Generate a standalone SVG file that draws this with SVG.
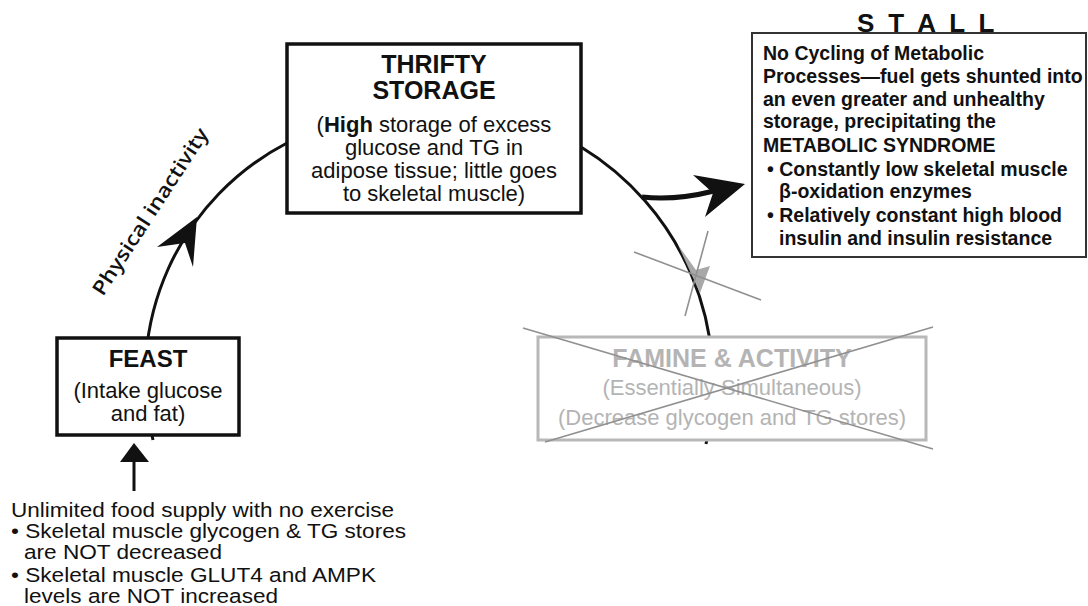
<svg xmlns="http://www.w3.org/2000/svg" width="1088" height="606" viewBox="0 0 1088 606">
<style>
.t{font-family:"Liberation Sans",Arial,sans-serif;font-size:22px;fill:#111}
.s{font-family:"Liberation Sans",Arial,sans-serif;font-size:20.5px;fill:#111}
.b{font-family:"Liberation Sans",Arial,sans-serif;font-weight:bold;fill:#111}
.g{font-family:"Liberation Sans",Arial,sans-serif;fill:#b4b4b4}
.box{fill:#fff;stroke:#111;stroke-width:3.5}
.arc{fill:none;stroke:#111;stroke-width:3}
.xl{stroke:#909090;stroke-width:1.6}
</style>
<rect width="1088" height="606" fill="#fff"/>
<g id="connectors">
<path class="arc" d="M153,440 A263,263 0 0 1 287,143"/>
<polygon points="197,217 157,247 185,243 193,267" fill="#111"/>
<path class="arc" d="M581,147 A275,275 0 0 1 706,444"/>
<polygon points="700,293 678,245 696,270 710,266" fill="#a8a8a8"/>
<path d="M642,197 C668,200 690,197 714,191" fill="none" stroke="#111" stroke-width="5"/>
<polygon points="745,184 693,175 713,193 705,217" fill="#111"/>
<line x1="134" y1="491" x2="134" y2="458" stroke="#111" stroke-width="3"/>
<polygon points="134,443 120,462 149,462" fill="#111"/>
<line class="xl" x1="634" y1="252" x2="761" y2="300"/>
<line class="xl" x1="708" y1="231" x2="685" y2="316"/>
</g>
<text transform="translate(103,297) rotate(-57)" textLength="195" lengthAdjust="spacingAndGlyphs" style="font-family:'Open Sans','DejaVu Sans',sans-serif;font-size:20px;font-weight:600;fill:#111">Physical inactivity</text>
<g id="thrifty">
<rect class="box" x="287" y="44" width="294" height="169"/>
<text class="b" x="434" y="73" font-size="25" text-anchor="middle">THRIFTY</text>
<text class="b" x="434" y="99" font-size="25" text-anchor="middle">STORAGE</text>
<text class="t" x="434" y="132" text-anchor="middle">(<tspan font-weight="bold">High</tspan> storage of excess</text>
<text class="t" x="434" y="155" text-anchor="middle">glucose and TG in</text>
<text class="t" x="434" y="178" text-anchor="middle">adipose tissue; little goes</text>
<text class="t" x="434" y="201" text-anchor="middle">to skeletal muscle)</text>
</g>
<g id="feast">
<rect class="box" x="57" y="338" width="182" height="97"/>
<text class="b" x="148" y="367" font-size="24" text-anchor="middle">FEAST</text>
<text class="t" x="148" y="398" text-anchor="middle">(Intake glucose</text>
<text class="t" x="148" y="421" text-anchor="middle">and fat)</text>
</g>
<g id="conditions">
<text class="s" x="11" y="517" textLength="383" lengthAdjust="spacingAndGlyphs">Unlimited food supply with no exercise</text>
<text class="s" x="11" y="538" textLength="395" lengthAdjust="spacingAndGlyphs">• Skeletal muscle glycogen &amp; TG stores</text>
<text class="s" x="24" y="559" textLength="198" lengthAdjust="spacingAndGlyphs">are NOT decreased</text>
<text class="s" x="11" y="582" textLength="365" lengthAdjust="spacingAndGlyphs">• Skeletal muscle GLUT4 and AMPK</text>
<text class="s" x="24" y="603" textLength="254" lengthAdjust="spacingAndGlyphs">levels are NOT increased</text>
</g>
<g id="stall">
<text class="b" x="857" y="32" font-size="26" letter-spacing="3.4">S T A L L</text>
<rect x="752" y="33" width="334" height="224" fill="#fff" stroke="#333" stroke-width="2"/>
<g class="b" font-size="19.5">
<text x="763" y="60">No Cycling of Metabolic</text>
<text x="763" y="83">Processes—fuel gets shunted into</text>
<text x="763" y="106">an even greater and unhealthy</text>
<text x="763" y="128">storage, precipitating the</text>
<text x="763" y="152">METABOLIC SYNDROME</text>
<text x="767" y="176">• Constantly low skeletal muscle</text>
<text x="779" y="198">β-oxidation enzymes</text>
<text x="767" y="222">• Relatively constant high blood</text>
<text x="779" y="245">insulin and insulin resistance</text>
</g>
</g>
<g id="famine">
<rect x="538" y="337" width="388" height="103" fill="#fff" stroke="#b8b8b8" stroke-width="3"/>
<text class="g" x="732" y="367" font-size="25" font-weight="bold" text-anchor="middle">FAMINE &amp; ACTIVITY</text>
<text class="g" x="732" y="395" font-size="22" text-anchor="middle">(Essentially Simultaneous)</text>
<text class="g" x="732" y="425" font-size="22" text-anchor="middle">(Decrease glycogen and TG stores)</text>
<line class="xl" x1="523" y1="328" x2="933" y2="449"/>
<line class="xl" x1="545" y1="442" x2="933" y2="327"/>
</g>
</svg>
